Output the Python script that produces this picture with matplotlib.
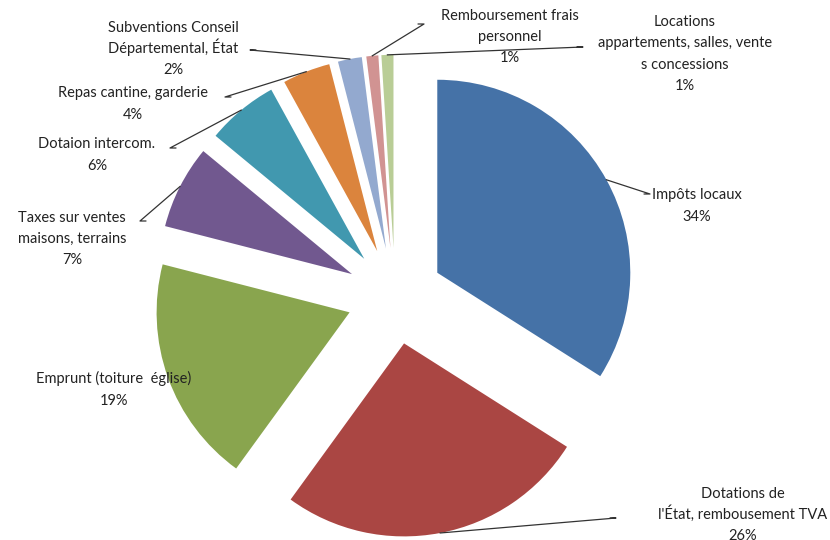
import numpy as np
import matplotlib.pyplot as plt

libelles = ['Impôts locaux', "Dotations de\nl'État, rembousement TVA", 'Emprunt (toiture  église)',
            'Taxes sur ventes\nmaisons, terrains', 'Dotaion intercom.', 'Repas cantine, garderie',
            'Subventions Conseil\nDépartemental, État', 'Remboursement frais\npersonnel',
            'Locations\nappartements, salles, vente\ns concessions']
parts = [34, 26, 19, 7, 6, 4, 2, 1, 1]
couleurs = ['#4572A7', '#AA4643', '#89A54E', '#71588F', '#4198AF',
            '#DB843D', '#93A9CF', '#D19392', '#B9CD96']

# centre du camembert en pixels et rayon
cx, cy, r = 395, 296, 193
interligne = 21.5


def px(x, y):
    return ((x - cx) / r, (cy - y) / r)


# position des étiquettes (pixels, centre du bloc) et coude de la ligne de rappel
pos_etiq = [(697, 205), (743, 514), (114, 389), (72, 238), (97, 154),
            (133, 103), (173, 48), (510, 36), (685, 53)]
coude = [(650, 194), (616, 518), None, (140, 221), (170, 148),
         (225, 97), (250, 50), (424, 24), (583, 47)]

plt.rcParams['font.family'] = ['Lato', 'DejaVu Sans']
fig = plt.figure(figsize=(8.3, 5.4), dpi=100)
ax = fig.add_axes([0, 0, 1, 1])

wedges, _ = ax.pie(parts, colors=couleurs, startangle=90, counterclock=False,
                   explode=[0.25] * len(parts), radius=1,
                   wedgeprops=dict(linewidth=0))

for i, w in enumerate(wedges):
    lignes = (libelles[i] + '\n' + str(parts[i]) + '%').split('\n')
    x_c, y_c = pos_etiq[i]
    y_haut = y_c - interligne * (len(lignes) - 1) / 2
    for k, ligne in enumerate(lignes):
        # ligne de base ~5 px sous le milieu de la ligne
        tx, ty = px(x_c, y_haut + k * interligne + 5)
        ax.text(tx, ty, ligne, ha='center', va='baseline', fontsize=10.5,
                color='#222222')
    if coude[i] is not None:
        a = np.deg2rad((w.theta1 + w.theta2) / 2)
        x0 = w.center[0] + w.r * np.cos(a)
        y0 = w.center[1] + w.r * np.sin(a)
        kx, ky = px(*coude[i])
        lx = kx + (0.03 if kx < x0 else -0.03)
        ax.plot([x0, kx, lx], [y0, ky, ky], color='#333333', linewidth=0.9)

ax.set_xlim(-cx / r, (830 - cx) / r)
ax.set_ylim(-(540 - cy) / r, cy / r)
ax.set_aspect('auto')
ax.axis('off')

plt.savefig('out.png', dpi=100)
